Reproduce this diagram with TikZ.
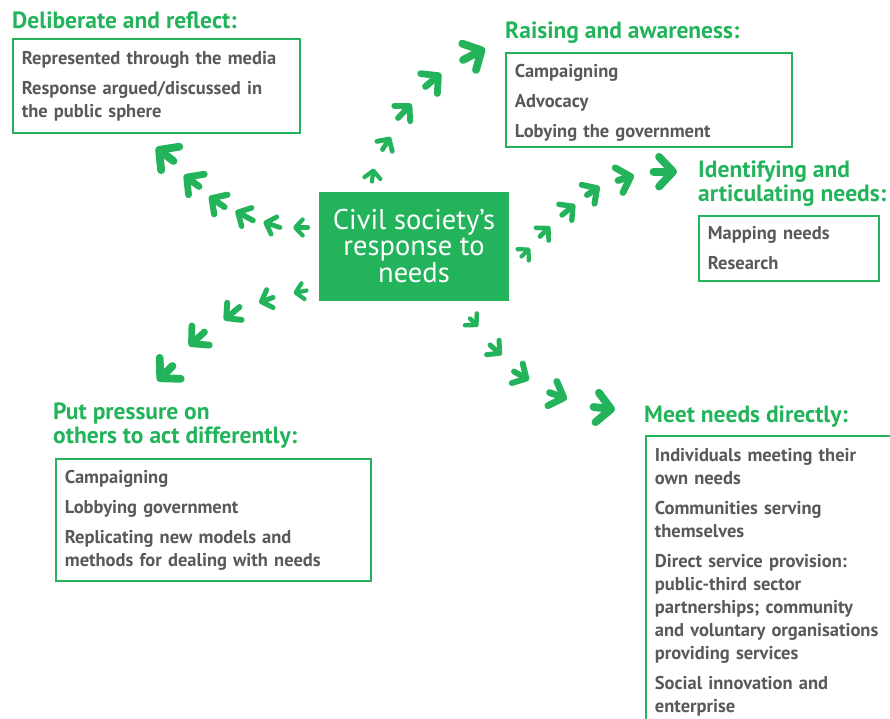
\documentclass[tikz,border=0pt]{standalone}
\usepackage{fontspec}
\setmainfont{PT Sans}
\usetikzlibrary{arrows.meta,positioning}
\definecolor{CsGreen}{HTML}{22B35B}
\definecolor{CsText}{HTML}{58595B}

\begin{document}
\begin{tikzpicture}[x=1pt,y=-1pt]
    \tikzset{hub/.style={fill=CsGreen,text=white,minimum width=190pt,minimum height=109pt,
      align=center,inner sep=0pt,font=\fontsize{28.5}{26.5}\selectfont},
      group/.style={draw=CsGreen,line width=1.8pt,anchor=north west,align=left,
      inner xsep=9pt,inner ysep=0pt,text=CsText,font=\fontsize{18.5}{23}\selectfont\bfseries},
      head/.style={text=CsGreen,anchor=base west,align=left,inner sep=0pt,
      font=\fontsize{23.5}{24.5}\selectfont\bfseries},
      chev/.style={draw=CsGreen,line width=#1,line cap=round,
      -{Straight Barb[round,length=0pt 1.8,width=0pt 3.8]}}}
    \useasboundingbox (0,0) rectangle (890,718);
    \clip (0,0) rectangle (890,718);
    % centre
    \node[hub] (hub) at (414,246) {Civil society’s\\response to\\needs};
    % the five groups of activity
    \node[group,text width=269pt,minimum height=94pt] (delib) at (12,38)
      {Represented through the media\\[7pt]Response argued/discussed in\\the public sphere};
    \node[head] (delibT) at (12,28) {Deliberate and reflect:};
    \node[group,text width=268pt,minimum height=94pt,text height=19pt] (raise) at (505,52)
      {Campaigning\\[7pt]Advocacy\\[7pt]Lobying the government};
    \node[head] (raiseT) at (505,38) {Raising and awareness:};
    \node[group,text width=162pt,minimum height=65pt] (ident) at (698,215)
      {Mapping needs\\[7pt]Research};
    \node[head] (identT) at (698,201.5) {Identifying and\\articulating needs:};
    \node[group,text width=297pt,minimum height=122pt] (press) at (55,458)
      {Campaigning\\[7pt]Lobbying government\\[7pt]Replicating new models and\\methods for dealing with needs};
    \node[head] (pressT) at (53,443.5) {Put pressure on\\others to act differently:};
    \node[group,text width=260pt,minimum height=292pt] (meet) at (645,435)
      {Individuals meeting their\\own needs\\[7pt]Communities serving\\themselves\\[7pt]Direct service provision:\\public-third sector\\partnerships; community\\and voluntary organisations\\providing services\\[7pt]Social innovation and\\enterprise};
    \node[head] (meetT) at (644,422) {Meet needs directly:};
    % chevron trails, growing outwards
    \foreach \xa/\ya/\xb/\yb/\w in {
      308/227.5/293/227.5/4.2, 280/227.5/263.5/222/4.8, 253/220.5/235.5/211/5.5,
      224.5/207/209/196.5/6.2, 199/186.5/184/175/6.8, 173.5/161/156/147.5/7.8}
      \draw[chev=\w pt] (\xa,\ya) -- (\xb,\yb);
    \foreach \xa/\ya/\xb/\yb/\w in {
      372/181.5/373.5/168.5/4.2, 382.5/149.5/390.5/137/4.8, 398/118/411.5/104/5.8,
      425.5/86.5/441/73.5/6.8, 463/60/485/48.5/7.8}
      \draw[chev=\w pt] (\xa,\ya) -- (\xb,\yb);
    \foreach \xa/\ya/\xb/\yb/\w in {
      521.5/256.5/530/248/4.2, 540/236.5/550/226.5/4.7, 562/215/575/204.5/5.4,
      587/195/599.5/186.5/6, 618/180.5/634/175.5/6.8, 653.5/171.7/677/171.7/7.8}
      \draw[chev=\w pt] (\xa,\ya) -- (\xb,\yb);
    \foreach \xa/\ya/\xb/\yb/\w in {
      470/318.5/478/326.5/4.4, 490/345/501.5/355/5, 514/371.5/529/380/5.9,
      549.5/392.5/567/399/6.8, 593.5/407/615/409.5/7.8}
      \draw[chev=\w pt] (\xa,\ya) -- (\xb,\yb);
    \foreach \xa/\ya/\xb/\yb/\w in {
      306.5/290.5/293.5/293/4.2, 273/297.5/259/302.5/5, 239.5/307/224/320/5.9,
      204.5/332/189/346/6.8, 172.5/366/157.5/381/7.8}
      \draw[chev=\w pt] (\xa,\ya) -- (\xb,\yb);
\end{tikzpicture}
\end{document}
